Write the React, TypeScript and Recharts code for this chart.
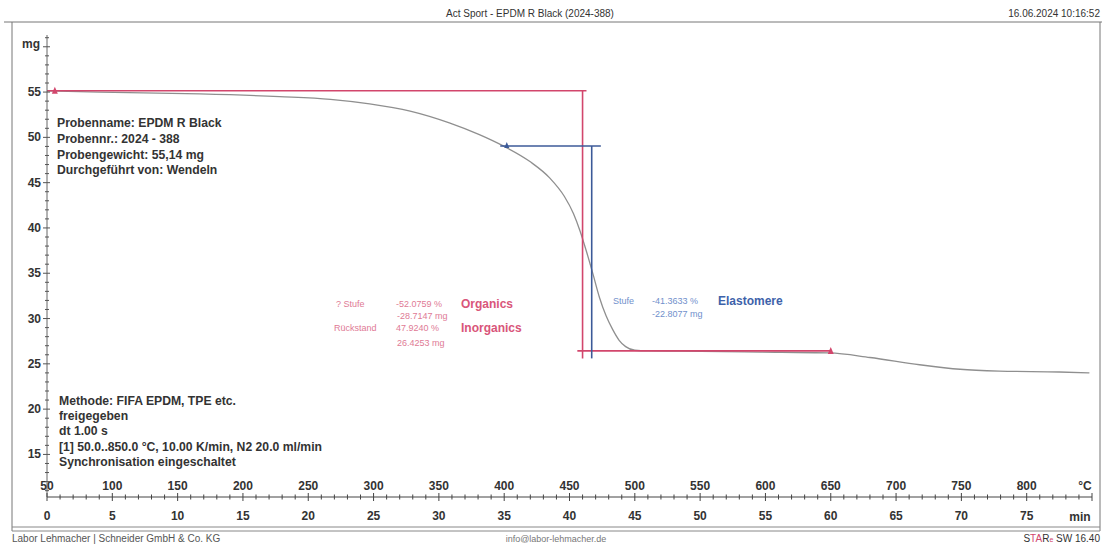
import React from 'react';
import { ComposedChart, Line, XAxis, YAxis, Scatter } from 'recharts';

// TGA curve: temperature (°C) vs. mass (mg)
const tempC = [50, 90, 167, 228, 267, 297, 328, 358, 381, 400, 420, 435, 446, 453, 458, 463, 468, 473, 478, 483, 488, 493, 500, 510, 534, 596, 649, 680, 718, 749, 779, 825, 848];
const massMg = [55.14, 55.0, 54.8, 54.5, 54.2, 53.7, 52.9, 51.6, 50.3, 49.0, 47.3, 45.5, 43.5, 41.6, 39.7, 37.4, 34.9, 32.3, 30.3, 28.8, 27.6, 26.9, 26.5, 26.42, 26.4, 26.3, 26.2, 25.7, 24.9, 24.4, 24.2, 24.1, 24.0];

// evaluation step lines (Organics / Inorganics, red)
const redTopT = [50, 463];
const redTopMg = [55.14, 55.14];
const redVertT = [460, 460];
const redVertMg = [55.14, 25.6];
const redBottomT = [456, 650];
const redBottomMg = [26.43, 26.43];
// Elastomere step (blue)
const blueTopT = [397, 474];
const blueTopMg = [49.05, 49.05];
const blueVertT = [467, 467];
const blueVertMg = [49.05, 25.6];

const redMarkT = [56, 650];
const redMarkMg = [55.14, 26.43];
const blueMarkT = [402];
const blueMarkMg = [49.05];

const xTicks = Array.from({ length: 81 }, (_, i) => 50 + i * 10);
const yTicks = Array.from({ length: 51 }, (_, i) => 11 + i);

const zip = (ts: number[], ms: number[]) => ts.map((t, i) => ({ t, mg: ms[i] }));

const curveData = zip(tempC, massMg);
const RED = '#d2466c';
const BLUE = '#3c5a98';
const FONT = '"Liberation Sans", Arial, sans-serif';

const XTick = (props: any) => {
  const { x, y, payload } = props;
  const v = payload.value as number;
  const major = v % 50 === 0;
  return (
    <g>
      <line x1={x} x2={x} y1={y - (major ? 4 : 2.5)} y2={y + (major ? 4 : 2.5)} stroke="#444" strokeWidth={1} />
      {major && v < 850 && (
        <text x={x} y={y - 7} textAnchor="middle" fontSize={12} fontWeight={600} fill="#333" fontFamily={FONT}>{v}</text>
      )}
      {major && v < 850 && (
        <text x={x} y={y + 23} textAnchor="middle" fontSize={12} fontWeight={600} fill="#333" fontFamily={FONT}>{(v - 50) / 10}</text>
      )}
      {v === 850 && (
        <text x={x - 7} y={y - 7} textAnchor="middle" fontSize={12} fontWeight={600} fill="#333" fontFamily={FONT}>°C</text>
      )}
      {v === 850 && (
        <text x={x - 12} y={y + 24} textAnchor="middle" fontSize={12} fontWeight={600} fill="#333" fontFamily={FONT}>min</text>
      )}
    </g>
  );
};

const YTick = (props: any) => {
  const { x, y, payload } = props;
  const v = payload.value as number;
  const major = v % 5 === 0;
  return (
    <g>
      <line x1={x - (major ? 4 : 2)} x2={x + (major ? 3 : 2)} y1={y} y2={y} stroke="#555" strokeWidth={1} />
      {major && v >= 15 && v <= 55 && (
        <text x={x - 6} y={y + 4} textAnchor="end" fontSize={12} fontWeight={600} fill="#333" fontFamily={FONT}>{v}</text>
      )}
    </g>
  );
};

const RedMark = (props: any) => {
  const { cx, cy } = props;
  return <path d={`M${cx - 3},${cy + 3} L${cx},${cy - 4} L${cx + 3},${cy + 3} Z`} fill={RED} />;
};
const BlueMark = (props: any) => {
  const { cx, cy } = props;
  return <path d={`M${cx - 2.5},${cy + 2} L${cx},${cy - 4} L${cx + 2.5},${cy + 2} Z`} fill={BLUE} />;
};

export default function App() {
  const txt = { fontFamily: FONT, fontSize: 12.2, fontWeight: 700, fill: '#333' } as const;
  return (
    <div style={{ position: 'absolute', left: 0, top: 0, width: 1106, height: 546, background: '#fff' }}>
      <ComposedChart width={1106} height={546} margin={{ top: 35, right: 14, bottom: 0, left: 7 }}>
        <XAxis
          type="number"
          dataKey="t"
          domain={[50, 850]}
          ticks={xTicks}
          interval={0}
          allowDataOverflow
          height={49}
          tickSize={0}
          tickMargin={0}
          tick={<XTick />}
          stroke="#444"
          axisLine={{ stroke: '#444', strokeWidth: 1 }}
          tickLine={false}
        />
        <YAxis
          type="number"
          dataKey="mg"
          domain={[10.3, 61.3]}
          ticks={yTicks}
          interval={0}
          allowDataOverflow
          width={40}
          tickSize={0}
          tickMargin={0}
          tick={<YTick />}
          axisLine={{ stroke: '#666', strokeWidth: 1 }}
          tickLine={false}
        />
        <Line data={curveData} dataKey="mg" type="monotone" stroke="#8f8f8f" strokeWidth={1.3} dot={false} isAnimationActive={false} />
        <Line data={zip(redTopT, redTopMg)} dataKey="mg" type="linear" stroke={RED} strokeWidth={1.6} dot={false} isAnimationActive={false} />
        <Line data={zip(redVertT, redVertMg)} dataKey="mg" type="linear" stroke={RED} strokeWidth={1.6} dot={false} isAnimationActive={false} />
        <Line data={zip(redBottomT, redBottomMg)} dataKey="mg" type="linear" stroke={RED} strokeWidth={1.6} dot={false} isAnimationActive={false} />
        <Line data={zip(blueTopT, blueTopMg)} dataKey="mg" type="linear" stroke={BLUE} strokeWidth={1.6} dot={false} isAnimationActive={false} />
        <Line data={zip(blueVertT, blueVertMg)} dataKey="mg" type="linear" stroke={BLUE} strokeWidth={1.6} dot={false} isAnimationActive={false} />
        <Scatter data={zip(redMarkT, redMarkMg)} dataKey="mg" shape={<RedMark />} isAnimationActive={false} />
        <Scatter data={zip(blueMarkT, blueMarkMg)} dataKey="mg" shape={<BlueMark />} isAnimationActive={false} />
      </ComposedChart>
      <svg width={1106} height={546} style={{ position: 'absolute', left: 0, top: 0, pointerEvents: 'none' }}>
        {/* frame */}
        <line x1={4} x2={1102} y1={22} y2={22} stroke="#777" strokeWidth={1} />
        <line x1={12} x2={12} y1={22} y2={531} stroke="#777" strokeWidth={1} />
        <line x1={1100} x2={1100} y1={22} y2={531} stroke="#777" strokeWidth={1} />
        <line x1={12} x2={1100} y1={527} y2={527} stroke="#888" strokeWidth={1} />
        <line x1={12} x2={1100} y1={531} y2={531} stroke="#888" strokeWidth={1} />
        {/* header / footer */}
        <text x={530} y={17} textAnchor="middle" fontFamily={FONT} fontSize={10} fill="#333">Act Sport - EPDM R Black (2024-388)</text>
        <text x={1100} y={17} textAnchor="end" fontFamily={FONT} fontSize={10} fill="#333">16.06.2024 10:16:52</text>
        <text x={12} y={542} fontFamily={FONT} fontSize={10} fill="#555">Labor Lehmacher | Schneider GmbH &amp; Co. KG</text>
        <text x={556} y={542} textAnchor="middle" fontFamily={FONT} fontSize={9} fill="#777">info@labor-lehmacher.de</text>
        <text x={1100} y={542} textAnchor="end" fontFamily={FONT} fontSize={10} fill="#333">
          <tspan>S</tspan><tspan fill={RED}>TA</tspan><tspan>R</tspan><tspan fill={RED} fontSize={7}>e</tspan><tspan> SW 16.40</tspan>
        </text>
        <text x={22} y={48} fontFamily={FONT} fontSize={12} fontWeight={600} fill="#333">mg</text>
        {/* sample info */}
        <text x={57} y={127} {...txt}>Probenname: EPDM R Black</text>
        <text x={57} y={143} {...txt}>Probennr.: 2024 - 388</text>
        <text x={57} y={159} {...txt}>Probengewicht: 55,14 mg</text>
        <text x={57} y={174} {...txt}>Durchgeführt von: Wendeln</text>
        <text x={59} y={405} {...txt}>Methode: FIFA EPDM, TPE etc.</text>
        <text x={59} y={420} {...txt}>freigegeben</text>
        <text x={59} y={435} {...txt}>dt 1.00 s</text>
        <text x={59} y={451} {...txt}>[1] 50.0..850.0 °C, 10.00 K/min, N2 20.0 ml/min</text>
        <text x={59} y={466} {...txt}>Synchronisation eingeschaltet</text>
        {/* red evaluation */}
        <g fontFamily={FONT} fontSize={9} fill="#e07a95">
          <text x={336} y={307}>? Stufe</text>
          <text x={396} y={307}>-52.0759 %</text>
          <text x={397} y={319}>-28.7147 mg</text>
          <text x={334} y={331}>Rückstand</text>
          <text x={396} y={331}>47.9240 %</text>
          <text x={397} y={346}>26.4253 mg</text>
        </g>
        <text x={461} y={308} fontFamily={FONT} fontSize={12} fontWeight={700} fill="#d9557a">Organics</text>
        <text x={461} y={332} fontFamily={FONT} fontSize={12} fontWeight={700} fill="#d9557a">Inorganics</text>
        {/* blue evaluation */}
        <g fontFamily={FONT} fontSize={9} fill="#7190cc">
          <text x={613} y={304}>Stufe</text>
          <text x={652} y={304}>-41.3633 %</text>
          <text x={652} y={317}>-22.8077 mg</text>
        </g>
        <text x={718} y={305} fontFamily={FONT} fontSize={12} fontWeight={700} fill="#3d62aa">Elastomere</text>
      </svg>
    </div>
  );
}
